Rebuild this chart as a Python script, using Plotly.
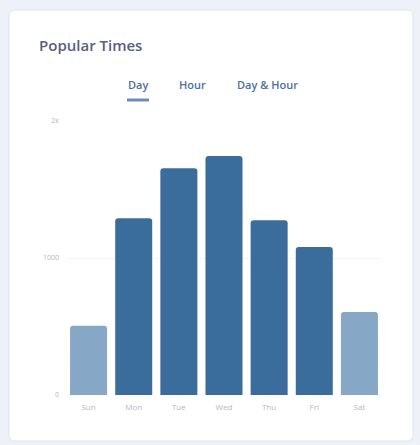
import plotly.graph_objects as go

# Visits per weekday
days = ["Sun", "Mon", "Tue", "Wed", "Thu", "Fri", "Sat"]
visits = [505, 1290, 1655, 1745, 1275, 1080, 605]
weekend = [True, False, False, False, False, False, True]

tick_vals = [0, 1000, 2000]
tick_text = ["0", "1000", "2k"]

WEEKDAY_COLOR = "#3b6d9c"
WEEKEND_COLOR = "#86a7c6"

W, H = 420, 445
ML, MR, MT, MB = 66, 38, 121, 50
PW, PH = W - ML - MR, H - MT - MB


def px(x):
    return (x - ML) / PW


def py(y):
    return (H - MB - y) / PH


fig = go.Figure(
    go.Bar(
        x=days,
        y=visits,
        marker=dict(
            color=[WEEKEND_COLOR if w else WEEKDAY_COLOR for w in weekend],
            cornerradius=3,
            line=dict(width=0),
        ),
        hoverinfo="x+y",
    )
)

# rounded white card on a pale blue page
x0, x1, y0, y1, r = px(9), px(413), py(10), py(441), 6
rx, ry = r / PW, r / PH
card = (
    f"M {x0+rx},{y0} L {x1-rx},{y0} Q {x1},{y0} {x1},{y0-ry} "
    f"L {x1},{y1+ry} Q {x1},{y1} {x1-rx},{y1} L {x0+rx},{y1} "
    f"Q {x0},{y1} {x0},{y1+ry} L {x0},{y0-ry} Q {x0},{y0} {x0+rx},{y0} Z"
)
shapes = [
    dict(type="path", xref="paper", yref="paper", path=card,
         fillcolor="white", line=dict(color="#dfe5ee", width=1), layer="below"),
    # underline of the active tab
    dict(type="line", xref="paper", yref="paper",
         x0=px(127), x1=px(149), y0=py(100), y1=py(100),
         line=dict(color="#6a8cba", width=3)),
]

annotations = [
    dict(text="Popular Times", xref="paper", yref="paper", x=px(37), y=py(45),
         xanchor="left", yanchor="middle", showarrow=False,
         font=dict(family="Open Sans", size=15, color="#596179", weight=600)),
]
for label, cx in [("Day", 138), ("Hour", 192), ("Day & Hour", 267)]:
    annotations.append(
        dict(text=label, xref="paper", yref="paper", x=px(cx), y=py(84),
             xanchor="center", yanchor="middle", showarrow=False,
             font=dict(family="Open Sans", size=11, color="#4d6fa0", weight=600))
    )

fig.update_layout(
    width=W, height=H,
    margin=dict(l=ML, r=MR, t=MT, b=MB),
    paper_bgcolor="#eef2f8",
    plot_bgcolor="rgba(0,0,0,0)",
    bargap=0.18,
    showlegend=False,
    shapes=shapes,
    annotations=annotations,
    xaxis=dict(
        showgrid=False, showline=False, zeroline=False,
        tickfont=dict(family="Open Sans", size=8, color="#b4b8c0"),
        ticks="", ticklen=0, ticklabelstandoff=6,
    ),
    yaxis=dict(
        range=[0, 2000], tickvals=tick_vals, ticktext=tick_text,
        showgrid=True, gridcolor="#f3f4f6", gridwidth=1,
        zeroline=False, showline=False,
        tickfont=dict(family="Open Sans", size=7, color="#b4b8c0"),
        ticks="", ticklabelstandoff=6,
    ),
)

fig.write_html("out.html")
